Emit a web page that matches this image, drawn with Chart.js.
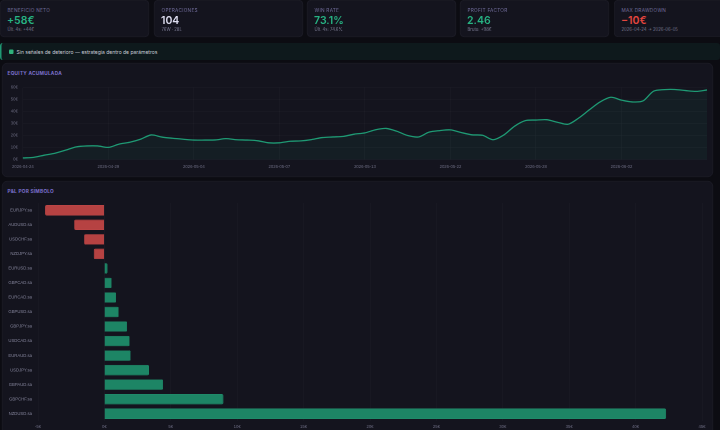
<!DOCTYPE html>
<html lang="es">
<head>
<meta charset="utf-8">
<script src="https://cdn.jsdelivr.net/npm/chart.js@4.4.1/dist/chart.umd.min.js"></script>
<style>
html, body { margin:0; padding:0; background:#0c0c12; width:720px; height:430px; overflow:hidden; }
#pagina { position:absolute; left:0; top:0; width:1440px; height:860px; transform:scale(0.5); transform-origin:0 0; font-family: Inter, "Noto Sans", sans-serif; }
.kpi { position:absolute; top:0; width:298px; height:74px; box-sizing:border-box; background:#14141e; border:1px solid #262633; border-radius:8px; }
.kpi .tit { position:absolute; left:14px; top:13px; font-size:9.5px; line-height:12px; letter-spacing:0.5px; color:#6f6b98; text-transform:uppercase; }
.kpi .val { position:absolute; left:13px; top:27px; font-size:21px; line-height:26px; font-weight:600; }
.kpi .sub { position:absolute; left:14px; top:53px; font-size:8.5px; line-height:11px; color:#7a7a92; }
.verde { color:#27b283; }
.rojo { color:#e5463f; }
.blanco { color:#dedef0; }
#aviso { position:absolute; left:0; top:86px; width:1440px; height:34px; box-sizing:border-box; background:#0e191c; border-left:3px solid #1f9a74; border-radius:6px; font-size:10px; line-height:34px; color:#c8ccd6; padding-left:15px; }
#aviso .chk { display:inline-block; width:9px; height:9px; background:#2fb27c; border-radius:2px; vertical-align:-1px; margin-right:6px; }
.tarjeta { position:absolute; left:4px; width:1422px; box-sizing:border-box; background:#14141e; border:1px solid #262633; border-radius:10px; }
.tarjeta .tit { position:absolute; left:10px; top:13px; font-size:9.5px; line-height:12px; font-weight:700; letter-spacing:0.5px; color:#7b70cc; }
.lienzo { position:absolute; left:14px; width:1412px; }
</style>
</head>
<body>
<div id="pagina">
  <div class="kpi" style="left:0px"><div class="tit">Beneficio neto</div><div class="val verde">+58€</div><div class="sub">Últ. 4s: +44€</div></div>
  <div class="kpi" style="left:308px"><div class="tit">Operaciones</div><div class="val blanco">104</div><div class="sub">76W · 28L</div></div>
  <div class="kpi" style="left:614px"><div class="tit">Win rate</div><div class="val verde">73.1%</div><div class="sub">Últ. 4s: 74.6%</div></div>
  <div class="kpi" style="left:920px"><div class="tit">Profit factor</div><div class="val verde">2.46</div><div class="sub">Bruto: +98€</div></div>
  <div class="kpi" style="left:1228px"><div class="tit">Max drawdown</div><div class="val rojo">−10€</div><div class="sub">2026-04-24 → 2026-06-05</div></div>

  <div id="aviso"><span class="chk"></span>Sin señales de deterioro — estrategia dentro de parámetros</div>

  <div class="tarjeta" style="top:126px; height:228px;"><div class="tit">EQUITY ACUMULADA</div></div>
  <div class="lienzo" style="top:160px; height:190px;"><canvas id="graficoEquity"></canvas></div>

  <div class="tarjeta" style="top:362px; height:520px;"><div class="tit">P&amp;L POR SÍMBOLO</div></div>
  <div class="lienzo" style="top:396px; height:470px;"><canvas id="graficoSimbolos"></canvas></div>
</div>

<script>
// equity acumulada (€)
const equity = [
  1.3, 1.8, 3.6, 5.2, 7.8, 10.5, 11.3, 11.3, 10.1, 12.8,
  14.4, 16.9, 20.5, 18.7, 17.7, 16.9, 16.2, 16.2, 16.3, 17.4,
  16.5, 16.2, 15.6, 13.9, 13.9, 15.2, 15.5, 16.6, 18.3, 18.8,
  19.3, 21.1, 22.2, 24.8, 25.9, 23.5, 20.0, 18.8, 22.8, 24.1,
  24.7, 22.5, 20.6, 20.2, 16.5, 20.5, 27.8, 32.4, 32.9, 33.2,
  31.1, 29.4, 34.6, 41.5, 48.0, 51.9, 49.5, 48.0, 48.8, 57.0,
  58.3, 58.4, 57.5, 56.8, 58.0
];
const fechasEje = ['2026-04-24', '2026-04-29', '2026-05-04', '2026-05-07', '2026-05-13', '2026-05-22', '2026-05-28', '2026-06-02'];
const cadaN = 8;

const simbolos = ['EURJPY.sa', 'AUDUSD.sa', 'USDCHF.sa', 'NZDJPY.sa', 'EURUSD.sa', 'GBPCAD.sa', 'EURCAD.sa', 'GBPUSD.sa',
  'GBPJPY.sa', 'USDCAD.sa', 'EURAUD.sa', 'USDJPY.sa', 'GBPAUD.sa', 'GBPCHF.sa', 'NZDUSD.sa'];
const pnlSimbolo = [-4.47, -2.28, -1.53, -0.8, 0.23, 0.55, 0.88, 1.08, 1.71, 1.9, 1.98, 3.36, 4.42, 8.96, 42.3];

const colorTexto = '#6c6c82';
const colorGrid = 'rgba(255,255,255,0.045)';

const etiquetas = equity.map((v, i) => (i % cadaN === 0 && fechasEje[i / cadaN]) ? fechasEje[i / cadaN] : '');

new Chart(document.getElementById('graficoEquity'), {
  type: 'line',
  data: {
    labels: etiquetas,
    datasets: [{
      data: equity,
      borderColor: '#1f9a74',
      borderWidth: 2.6,
      backgroundColor: 'rgba(31,154,116,0.08)',
      fill: true,
      tension: 0.3,
      pointRadius: 0
    }]
  },
  options: {
    responsive: true,
    maintainAspectRatio: false,
    animation: false,
    layout: { padding: { top: 9, right: 12, left: 0, bottom: 0 } },
    plugins: { legend: { display: false }, tooltip: { enabled: false } },
    scales: {
      x: {
        ticks: {
          autoSkip: false, maxRotation: 0, color: colorTexto, font: { size: 8.5 }, padding: 10,
          callback: function (v, i) { return etiquetas[i] ? etiquetas[i] : null; }
        },
        grid: { color: colorGrid, drawTicks: false },
        border: { display: false },
        afterFit: s => { s.height = 31; }
      },
      y: {
        min: 0, max: 60,
        ticks: { stepSize: 10, color: colorTexto, font: { size: 8.5 }, padding: 10, callback: v => v + '€' },
        grid: { color: colorGrid, drawTicks: false },
        border: { display: false },
        afterFit: s => { s.width = 28; }
      }
    }
  }
});

new Chart(document.getElementById('graficoSimbolos'), {
  type: 'bar',
  data: {
    labels: simbolos,
    datasets: [{
      data: pnlSimbolo,
      backgroundColor: pnlSimbolo.map(v => v < 0 ? '#b64242' : '#1d8565'),
      borderColor: pnlSimbolo.map(v => v < 0 ? '#c04848' : '#22906e'),
      borderWidth: 1,
      borderRadius: 3,
      barPercentage: 0.9,
      categoryPercentage: 0.8
    }]
  },
  options: {
    indexAxis: 'y',
    responsive: true,
    maintainAspectRatio: false,
    animation: false,
    layout: { padding: { top: 10, right: 22, left: 0, bottom: 0 } },
    plugins: { legend: { display: false }, tooltip: { enabled: false } },
    scales: {
      x: {
        min: -5, max: 45,
        ticks: { stepSize: 5, maxRotation: 0, color: colorTexto, font: { size: 8.5 }, padding: 7, callback: v => v + '€' },
        grid: { color: colorGrid, drawTicks: false },
        border: { display: false },
        afterFit: s => { s.height = 24; }
      },
      y: {
        ticks: { color: '#85859c', font: { size: 8.5 }, padding: 4 },
        grid: { display: false },
        border: { display: false },
        afterFit: s => { s.width = 62; }
      }
    }
  }
});
</script>
</body>
</html>
